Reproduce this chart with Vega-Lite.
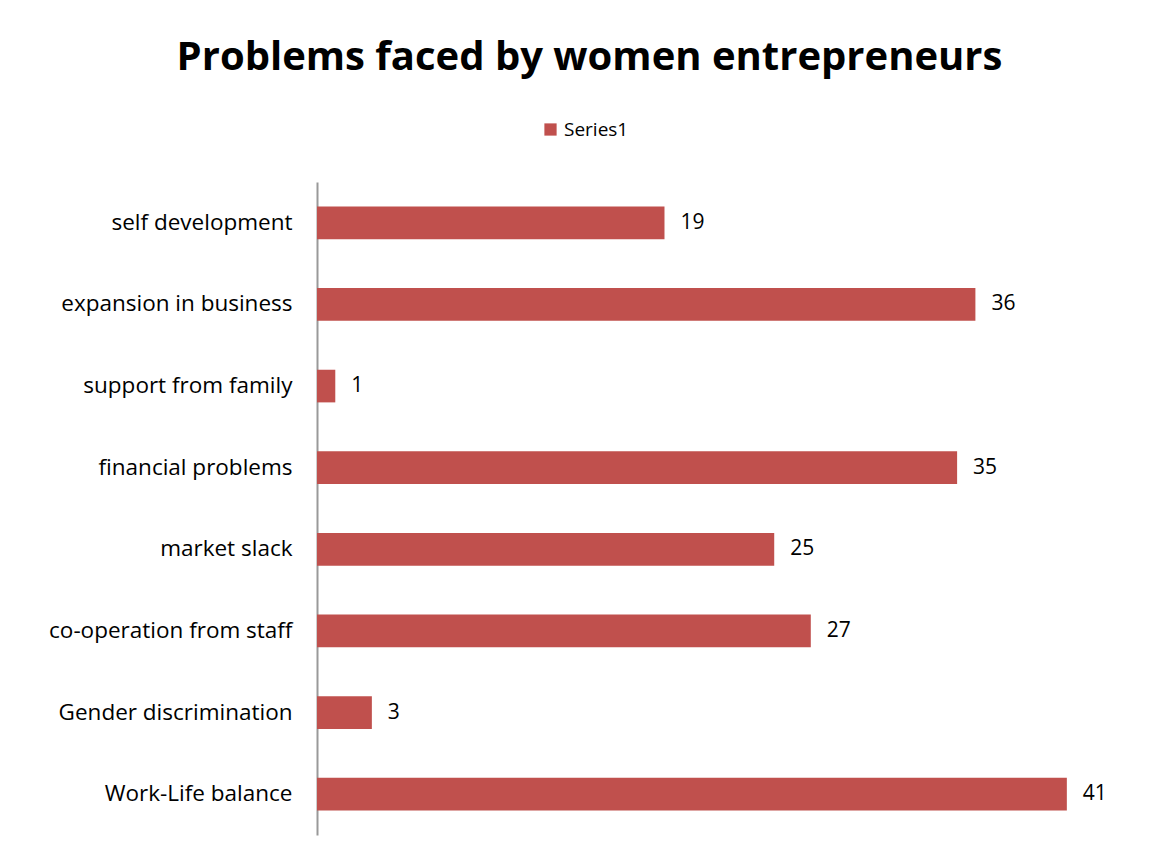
{
  "$schema": "https://vega.github.io/schema/vega-lite/v6.json",
  "width": 823,
  "height": 653,
  "autosize": {"type": "none"},
  "padding": {"left": 317, "top": 182, "right": 17, "bottom": 24},
  "background": "white",
  "config": {"view": {"stroke": null}, "font": "Open Sans"},
  "title": {
    "text": "Problems faced by women entrepreneurs",
    "font": "Open Sans",
    "fontSize": 40,
    "fontWeight": "bold",
    "color": "black",
    "anchor": "middle",
    "dx": -139,
    "offset": 42
  },
  "data": {
    "values": [
      {"problem": "self development", "value": 19, "series": "Series1"},
      {"problem": "expansion in business", "value": 36, "series": "Series1"},
      {"problem": "support from family", "value": 1, "series": "Series1"},
      {"problem": "financial problems", "value": 35, "series": "Series1"},
      {"problem": "market slack", "value": 25, "series": "Series1"},
      {"problem": "co-operation from staff", "value": 27, "series": "Series1"},
      {"problem": "Gender discrimination", "value": 3, "series": "Series1"},
      {"problem": "Work-Life balance", "value": 41, "series": "Series1"}
    ]
  },
  "encoding": {
    "y": {
      "field": "problem",
      "type": "nominal",
      "sort": null,
      "scale": {"paddingInner": 0.6, "paddingOuter": 0.3},
      "axis": {
        "title": null,
        "ticks": false,
        "domainColor": "#999999",
        "domainWidth": 2,
        "labelFontSize": 22.5,
        "labelColor": "black",
        "labelPadding": 25,
        "labelLimit": 320,
        "labelFont": "Open Sans"
      }
    },
    "x": {
      "field": "value",
      "type": "quantitative",
      "scale": {"domain": [0, 45]},
      "axis": null
    }
  },
  "layer": [
    {
      "mark": {"type": "bar", "color": "#C0504D"},
      "encoding": {
        "fill": {
          "field": "series",
          "type": "nominal",
          "scale": {"range": ["#C0504D"]},
          "legend": {
            "title": null,
            "orient": "none",
            "legendX": 224,
            "legendY": -62,
            "symbolType": "square",
            "symbolSize": 150,
            "symbolStrokeWidth": 0,
            "labelFontSize": 19,
            "labelColor": "black",
            "labelFont": "Open Sans"
          }
        }
      }
    },
    {
      "mark": {"type": "text", "align": "left", "dx": 16, "fontSize": 21, "color": "black", "font": "Open Sans"},
      "encoding": {"text": {"field": "value", "type": "quantitative"}}
    }
  ]
}
